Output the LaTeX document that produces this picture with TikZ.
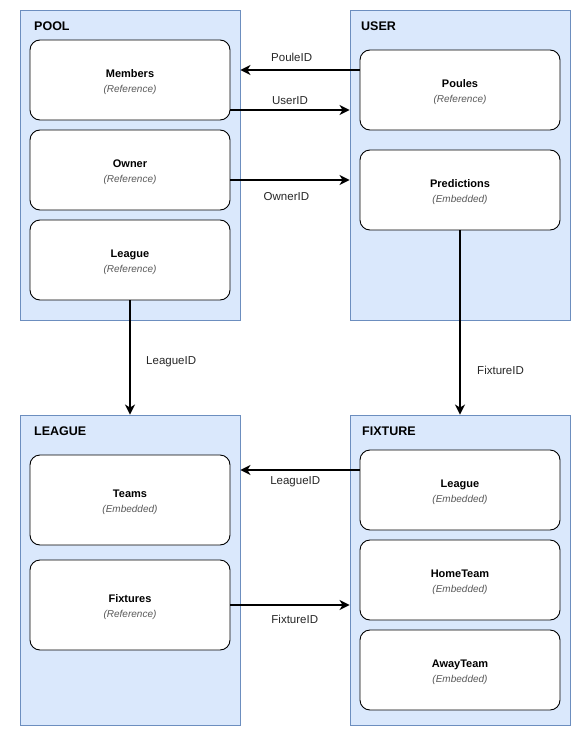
\documentclass[tikz,border=0pt]{standalone}
\usepackage{fontspec}
\setmainfont{Liberation Sans}
\usetikzlibrary{arrows.meta}
\definecolor{contfill}{HTML}{DAE8FC}
\definecolor{contdraw}{HTML}{6C8EBF}
\tikzset{
  cont/.style={draw=contdraw,fill=contfill,line width=0.9pt,minimum width=220pt,minimum height=310pt,inner sep=0pt},
  ctitle/.style={anchor=west,inner sep=0pt,font=\fontsize{12.5}{15}\selectfont\bfseries},
  field/.style={draw=black,fill=white,line width=0.9pt,rounded corners=10pt,minimum width=200pt,minimum height=80pt,align=center,inner sep=0pt,font=\fontsize{11}{15}\selectfont},
  link/.style={line width=1.8pt,-{Stealth[length=10pt,width=10pt,inset=3pt]}},
  lbl/.style={font=\fontsize{11.5}{13}\selectfont,text=black!85}
}
\newcommand{\fld}[2]{\rule{0pt}{12.5pt}\textbf{#1}\\{\fontsize{10}{12}\selectfont\itshape\color{black!65}(#2)}}

\begin{document}
\begin{tikzpicture}[x=1pt,y=-1pt]
    \useasboundingbox (0,0) rectangle (581,736);

    \node[cont] (Pool) at (130,165) {};
    \node[cont] (User) at (460,165) {};
    \node[cont] (League) at (130,570) {};
    \node[cont] (Fixture) at (460,570) {};

    \node[ctitle] (PoolT) at (34,26) {POOL};
    \node[ctitle] (UserT) at (361,26) {USER};
    \node[ctitle] (LeagueT) at (34,431) {LEAGUE};
    \node[ctitle] (FixtureT) at (362,431) {FIXTURE};

    \node[field] (Members) at (130,80) {\fld{Members}{Reference}};
    \node[field] (Owner) at (130,170) {\fld{Owner}{Reference}};
    \node[field] (PLeague) at (130,260) {\fld{League}{Reference}};

    \node[field] (Poules) at (460,90) {\fld{Poules}{Reference}};
    \node[field] (Predictions) at (460,190) {\fld{Predictions}{Embedded}};

    \node[field,minimum height=90pt] (Teams) at (130,500) {\fld{Teams}{Embedded}};
    \node[field,minimum height=90pt] (Fixtures) at (130,605) {\fld{Fixtures}{Reference}};

    \node[field] (FLeague) at (460,490) {\fld{League}{Embedded}};
    \node[field] (HomeTeam) at (460,580) {\fld{HomeTeam}{Embedded}};
    \node[field] (AwayTeam) at (460,670) {\fld{AwayTeam}{Embedded}};

    \draw[link] ([yshift=20pt]Poules.west) -- ([yshift=20pt]Poules.west -| Pool.east) node[lbl,above=4pt,pos=0.57] {PouleID};
    \draw[link] ([yshift=-30pt]Members.east) -- ([yshift=-30pt]Members.east -| User.west) node[lbl,above=1pt,pos=0.5] {UserID};
    \draw[link] ([yshift=-10pt]Owner.east) -- ([yshift=-10pt]Owner.east -| User.west) node[lbl,below=8pt,pos=0.47] {OwnerID};
    \draw[link] (PLeague.south) -- (League.north) node[lbl,right=12pt,pos=0.54] {LeagueID};
    \draw[link] (Predictions.south) -- (Fixture.north) node[lbl,right=13pt,pos=0.76] {FixtureID};
    \draw[link] ([yshift=20pt]FLeague.west) -- ([yshift=20pt]FLeague.west -| League.east) node[lbl,below=2pt,pos=0.54] {LeagueID};
    \draw[link] (Fixtures.east) -- (Fixtures.east -| Fixture.west) node[lbl,below=5.5pt,pos=0.54] {FixtureID};
\end{tikzpicture}
\end{document}
